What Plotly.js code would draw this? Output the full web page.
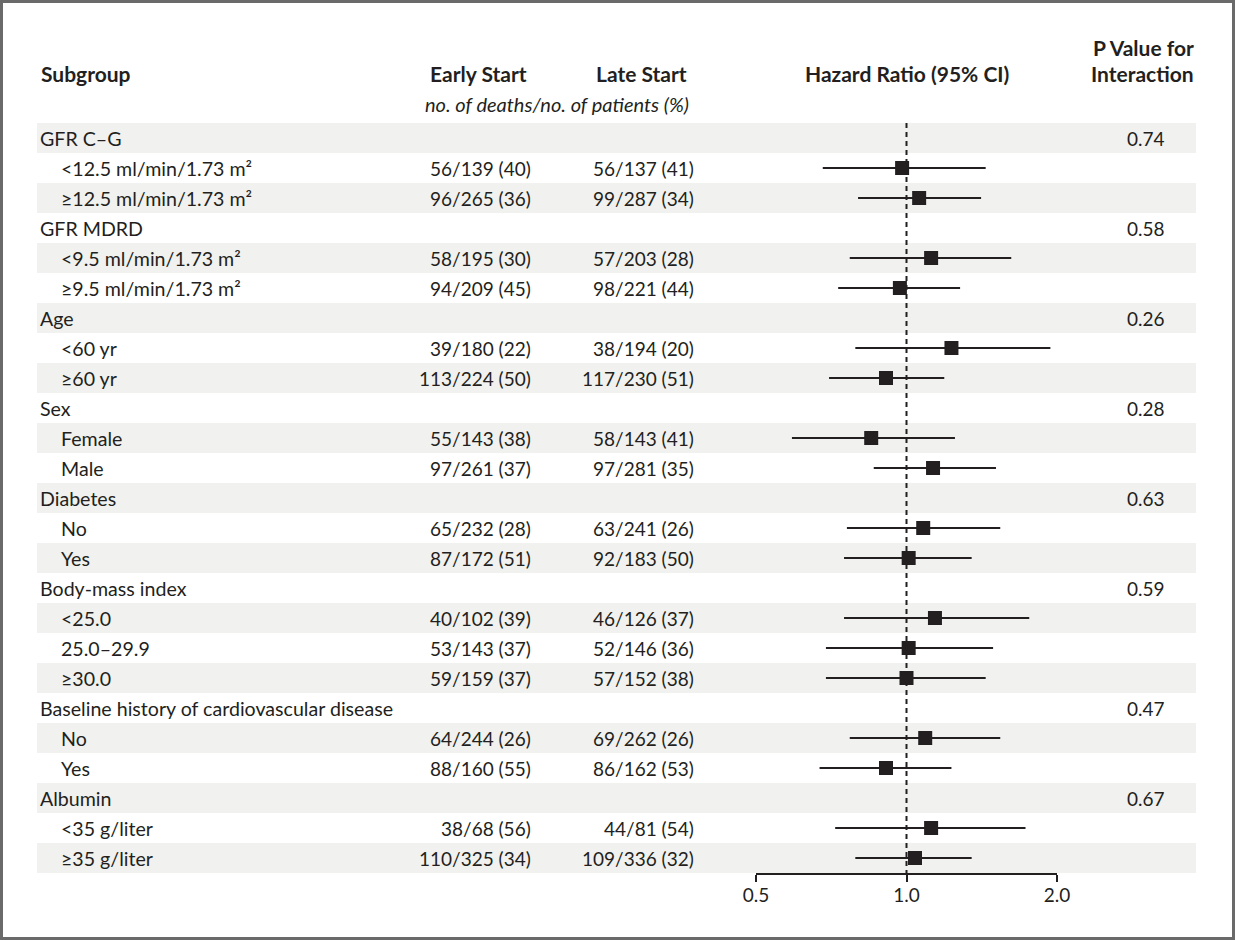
<!DOCTYPE html>
<html>
<head>
<meta charset="utf-8">
<script src="https://cdn.plot.ly/plotly-3.0.1.min.js"></script>
<style>
html,body{margin:0;padding:0;background:#fff;}
#chart{width:1235px;height:940px;}
</style>
</head>
<body>
<div id="chart"></div>
<script>
// ---------------- data ----------------
const rowLabels = [
  'GFR C–G',
  '&lt;12.5 ml/min/1.73 m²',
  '≥12.5 ml/min/1.73 m²',
  'GFR MDRD',
  '&lt;9.5 ml/min/1.73 m²',
  '≥9.5 ml/min/1.73 m²',
  'Age',
  '&lt;60 yr',
  '≥60 yr',
  'Sex',
  'Female',
  'Male',
  'Diabetes',
  'No',
  'Yes',
  'Body-mass index',
  '&lt;25.0',
  '25.0–29.9',
  '≥30.0',
  'Baseline history of cardiovascular disease',
  'No',
  'Yes',
  'Albumin',
  '&lt;35 g/liter',
  '≥35 g/liter'
];
const rowIsGroup = [1,0,0,1,0,0,1,0,0,1,0,0,1,0,0,1,0,0,0,1,0,0,1,0,0];
const earlyStart = ['', '56/139 (40)', '96/265 (36)', '', '58/195 (30)', '94/209 (45)', '', '39/180 (22)', '113/224 (50)', '', '55/143 (38)', '97/261 (37)', '', '65/232 (28)', '87/172 (51)', '', '40/102 (39)', '53/143 (37)', '59/159 (37)', '', '64/244 (26)', '88/160 (55)', '', '38/68 (56)', '110/325 (34)'];
const lateStart = ['', '56/137 (41)', '99/287 (34)', '', '57/203 (28)', '98/221 (44)', '', '38/194 (20)', '117/230 (51)', '', '58/143 (41)', '97/281 (35)', '', '63/241 (26)', '92/183 (50)', '', '46/126 (37)', '52/146 (36)', '57/152 (38)', '', '69/262 (26)', '86/162 (53)', '', '44/81 (54)', '109/336 (32)'];
const pValues = ['0.74','','','0.58','','','0.26','','','0.28','','','0.63','','','0.59','','','','0.47','','','0.67','',''];
const hazardRatio = [null, 0.98, 1.06, null, 1.12, 0.97, null, 1.23, 0.91, null, 0.85, 1.13, null, 1.08, 1.01, null, 1.14, 1.01, 1.00, null, 1.09, 0.91, null, 1.12, 1.04];
const ciLow  = [null, 0.68, 0.80, null, 0.77, 0.73, null, 0.79, 0.70, null, 0.59, 0.86, null, 0.76, 0.75, null, 0.75, 0.69, 0.69, null, 0.77, 0.67, null, 0.72, 0.79];
const ciHigh = [null, 1.44, 1.41, null, 1.62, 1.28, null, 1.94, 1.19, null, 1.25, 1.51, null, 1.54, 1.35, null, 1.76, 1.49, 1.44, null, 1.54, 1.23, null, 1.73, 1.35];
const tickValues = [0.5, 1.0, 2.0];
const tickLabels = ['0.5', '1.0', '2.0'];
const headers = {subgroup: 'Subgroup', early: 'Early Start', late: 'Late Start', hr: 'Hazard Ratio (95% CI)', p1: 'P Value for', p2: 'Interaction', sub: 'no. of deaths/no. of patients (%)'};

// ---------------- layout helpers ----------------
const W = 1235, H = 940;
const INK = '#231f20';
const FONT = 'Lato, "Open Sans", sans-serif';
const FS = 19;
const px = v => v / W;           // pixel x -> paper
const py = v => 1 - v / H;       // pixel y -> paper

const nRows = rowLabels.length;
const idx = rowLabels.map((_, i) => i);

// forest plot trace
const xs = [], ys = [], ep = [], em = [];
idx.forEach(i => {
  if (hazardRatio[i] != null) {
    xs.push(hazardRatio[i]); ys.push(i);
    ep.push(ciHigh[i] - hazardRatio[i]);
    em.push(hazardRatio[i] - ciLow[i]);
  }
});
const trace = {
  type: 'scatter', mode: 'markers', x: xs, y: ys,
  marker: {symbol: 'square', size: 14, color: INK, line: {width: 0}},
  error_x: {type: 'data', symmetric: false, array: ep, arrayminus: em, width: 0, thickness: 2, color: INK},
  hoverinfo: 'skip', showlegend: false, cliponaxis: false
};

const shapes = [];
// shaded bands
idx.forEach(i => {
  if (i % 2 === 0) {
    shapes.push({type: 'rect', layer: 'below', xref: 'paper', yref: 'y',
      x0: px(37), x1: px(1196), y0: i - 0.5, y1: i + 0.5,
      fillcolor: '#f1f1ef', line: {width: 0}});
  }
});
// reference line at 1.0
shapes.push({type: 'line', xref: 'x', yref: 'y', x0: 1, x1: 1, y0: -0.5, y1: nRows - 0.5,
  line: {color: INK, width: 2, dash: '5px,4px'}});
// frame
shapes.push({type: 'rect', xref: 'paper', yref: 'paper', x0: px(1.5), x1: px(W - 1.5), y0: py(H - 1.5), y1: py(1.5),
  line: {color: '#6a6a6a', width: 3}, fillcolor: 'rgba(0,0,0,0)'});

const ann = [];
const txt = (text, x, y, xanchor, opts = {}) => Object.assign({
  text, x, y, xref: 'paper', yref: 'y', xanchor, yanchor: 'middle', showarrow: false,
  font: {family: FONT, size: FS, color: INK}
}, opts);

const labelFont = {family: FONT, size: 19.6, color: INK};
idx.forEach(i => {
  ann.push(txt(rowLabels[i], px(rowIsGroup[i] ? 38 : 59), i, 'left', {font: labelFont}));
  if (earlyStart[i]) ann.push(txt(earlyStart[i], px(533), i, 'right'));
  if (lateStart[i]) ann.push(txt(lateStart[i], px(696), i, 'right'));
  if (pValues[i]) ann.push(txt(pValues[i], px(1167), i, 'right'));
});
const bold = {family: FONT, size: 21, color: INK, weight: 'bold'};
const ital = {family: FONT, size: 20, color: INK, style: 'italic'};
ann.push(txt(headers.subgroup, px(39), py(73), 'left', {yref: 'paper', font: bold}));
ann.push(txt(headers.early, px(478), py(73), 'center', {yref: 'paper', font: bold}));
ann.push(txt(headers.late, px(641), py(73), 'center', {yref: 'paper', font: bold}));
ann.push(txt(headers.hr, px(906.5), py(73), 'center', {yref: 'paper', font: bold}));
ann.push(txt(headers.p1, px(1196), py(48), 'right', {yref: 'paper', font: bold}));
ann.push(txt(headers.p2, px(1196), py(73), 'right', {yref: 'paper', font: bold}));
ann.push(txt(headers.sub, px(557), py(104), 'center', {yref: 'paper', font: ital}));

const layout = {
  width: W, height: H,
  margin: {l: 0, r: 0, t: 0, b: 0, pad: 0},
  paper_bgcolor: '#fff', plot_bgcolor: 'rgba(0,0,0,0)',
  showlegend: false,
  font: {family: FONT, size: FS, color: INK},
  xaxis: {
    type: 'log', domain: [px(756), px(1057)],
    range: [Math.log10(tickValues[0]), Math.log10(tickValues[tickValues.length - 1])],
    tickmode: 'array', tickvals: tickValues, ticktext: tickLabels,
    showline: true, linecolor: INK, linewidth: 2,
    ticks: 'outside', ticklen: 7, tickwidth: 2, tickcolor: INK,
    showgrid: false, zeroline: false, fixedrange: true, automargin: false,
    tickfont: {family: FONT, size: FS, color: INK}, ticklabelstandoff: -3
  },
  yaxis: {
    domain: [py(873), py(123)], range: [nRows - 0.5, -0.5],
    visible: false, showgrid: false, zeroline: false, fixedrange: true, automargin: false
  },
  shapes, annotations: ann
};

Plotly.newPlot('chart', [trace], layout, {staticPlot: true, displayModeBar: false});
</script>
</body>
</html>
